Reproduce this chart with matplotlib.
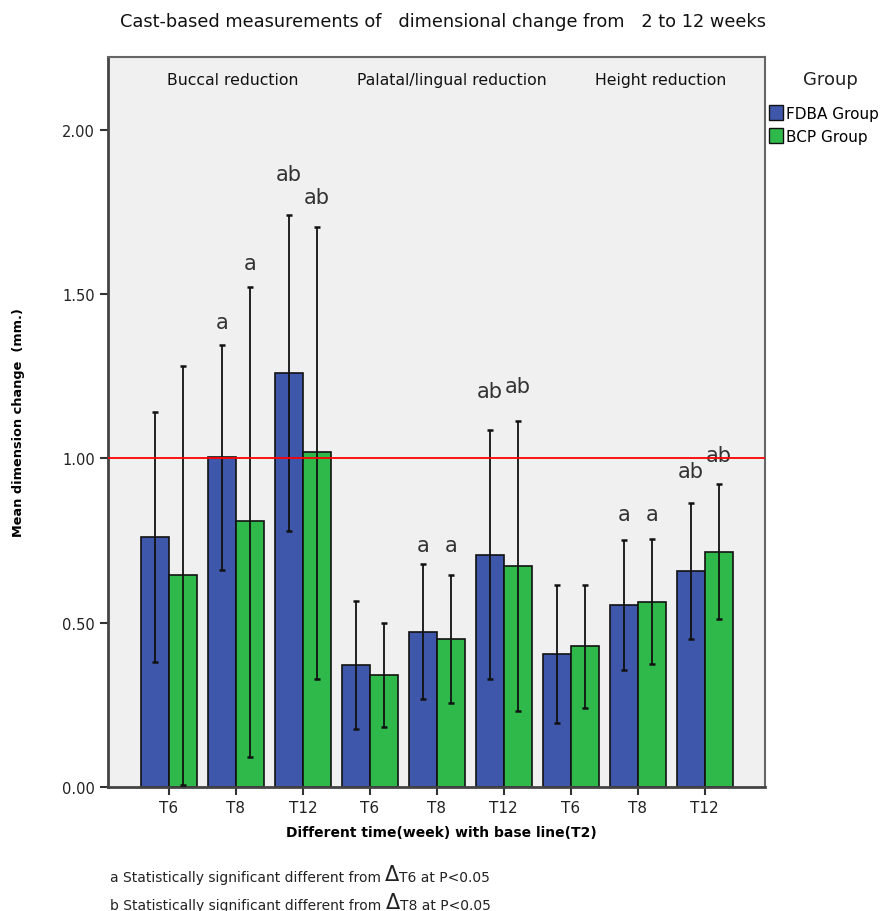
import numpy as np
import matplotlib.pyplot as plt
from matplotlib.patches import Patch

plt.rcParams['font.family'] = ['DejaVu Sans']

# Data
times = ["T6", "T8", "T12", "T6", "T8", "T12", "T6", "T8", "T12"]
sections = ["Buccal reduction", "Palatal/lingual reduction", "Height reduction"]

fdba_mean = [0.76, 1.005, 1.26, 0.372, 0.473, 0.706, 0.405, 0.553, 0.656]
fdba_lo = [0.38, 0.66, 0.78, 0.177, 0.267, 0.327, 0.195, 0.355, 0.45]
fdba_hi = [1.14, 1.345, 1.74, 0.566, 0.679, 1.085, 0.615, 0.752, 0.863]

bcp_mean = [0.645, 0.81, 1.02, 0.342, 0.45, 0.673, 0.428, 0.564, 0.716]
bcp_lo = [0.005, 0.09, 0.33, 0.182, 0.255, 0.232, 0.24, 0.374, 0.512]
bcp_hi = [1.28, 1.52, 1.705, 0.5, 0.645, 1.114, 0.613, 0.755, 0.922]

fdba_sig = ["", "a", "ab", "", "a", "ab", "", "a", "ab"]
bcp_sig = ["", "a", "ab", "", "a", "ab", "", "a", "ab"]
fdba_sig_y = [0, 1.415, 1.865, 0, 0.735, 1.205, 0, 0.83, 0.96]
bcp_sig_y = [0, 1.595, 1.795, 0, 0.735, 1.22, 0, 0.83, 1.01]

blue = "#3f57ab"
green = "#2fb94a"

fig = plt.figure(figsize=(8.92, 9.12), dpi=100)
ax = fig.add_axes([0.1211, 0.136, 0.7365, 0.8004])
ax.set_facecolor("#f0f0f0")

x = np.arange(len(times))
w = 0.418
fm, bm = np.array(fdba_mean), np.array(bcp_mean)
ax.bar(x - w/2, fm, w, color=blue, edgecolor="#111111", linewidth=1.2, zorder=2)
ax.bar(x + w/2, bm, w, color=green, edgecolor="#111111", linewidth=1.2, zorder=2)

ax.errorbar(x - w/2, fm, yerr=[fm - np.array(fdba_lo), np.array(fdba_hi) - fm],
            fmt="none", ecolor="#111111", elinewidth=1.3, capsize=2.5, capthick=1.8, zorder=3)
ax.errorbar(x + w/2, bm, yerr=[bm - np.array(bcp_lo), np.array(bcp_hi) - bm],
            fmt="none", ecolor="#111111", elinewidth=1.3, capsize=2.5, capthick=1.8, zorder=3)

for i in range(len(times)):
    if fdba_sig[i]:
        ax.text(x[i] - w/2, fdba_sig_y[i], fdba_sig[i], ha="center", va="center",
                fontsize=15, color="#333333", zorder=4)
    if bcp_sig[i]:
        ax.text(x[i] + w/2, bcp_sig_y[i], bcp_sig[i], ha="center", va="center",
                fontsize=15, color="#333333", zorder=4)

ax.axhline(1.0, color="#ff0000", linewidth=1.3, zorder=5)

for s, xc in zip(sections, [0.955, 4.22, 7.34]):
    ax.text(xc, 2.154, s, ha="center", va="center", fontsize=11.3, color="#111111")

ax.set_xlim(-0.91, 8.9)
ax.set_ylim(0, 2.221)
ax.set_xticks(x)
ax.set_xticklabels(times, fontsize=11)
ax.set_yticks([0, 0.5, 1.0, 1.5, 2.0])
ax.set_yticklabels(["0.00", "0.50", "1.00", "1.50", "2.00"], fontsize=10.5)
ax.tick_params(axis="both", length=6, width=1.5, color="#333333", labelcolor="#222222")
for sp in ax.spines.values():
    sp.set_color("#666666")
    sp.set_linewidth(1.5)
ax.spines["left"].set_color("#444444")
ax.spines["bottom"].set_color("#444444")
ax.spines["left"].set_linewidth(2)
ax.spines["bottom"].set_linewidth(2)

ax.set_ylabel("Mean dimension change  (mm.)", fontsize=9.3, fontweight="bold")
ax.yaxis.set_label_coords(-0.127, 0.5)
ax.set_xlabel("Different time(week) with base line(T2)", fontsize=10, fontweight="bold")
ax.xaxis.set_label_coords(0.507, -0.052)

fig.text(0.497, 0.976, "Cast-based measurements of   dimensional change from   2 to 12 weeks",
         ha="center", va="center", fontsize=12.8, color="#111111")

# footnotes with an enlarged delta
for k, (letter, ref) in enumerate([("a", "T6"), ("b", "T8")]):
    t1 = fig.text(0.123, 0.033 - k * 0.031,
                  letter + " Statistically significant different from ",
                  ha="left", va="baseline", fontsize=10, color="#222222")
    t2 = ax.annotate("\u0394", xy=(1, 0), xycoords=t1, va="bottom", ha="left",
                     fontsize=15, color="#222222", annotation_clip=False)
    ax.annotate(ref + " at P<0.05", xy=(1, 0), xycoords=t2, xytext=(0, 0),
                textcoords="offset points", va="bottom", ha="left",
                fontsize=10, color="#222222", annotation_clip=False)

# legend
fig.text(0.931, 0.912, "Group", ha="center", va="center", fontsize=13, color="#222222")
handles = [Patch(facecolor=blue, edgecolor="#111111", label="FDBA Group"),
           Patch(facecolor=green, edgecolor="#111111", label="BCP Group")]
leg = fig.legend(handles=handles, loc="upper left",
                 bbox_to_anchor=(0.862, 0.884), frameon=False, fontsize=11,
                 handlelength=0.9, handleheight=1.2,
                 handletextpad=0.2, labelspacing=0.45, borderaxespad=0, borderpad=0)

fig.savefig("out.png", dpi=100)
